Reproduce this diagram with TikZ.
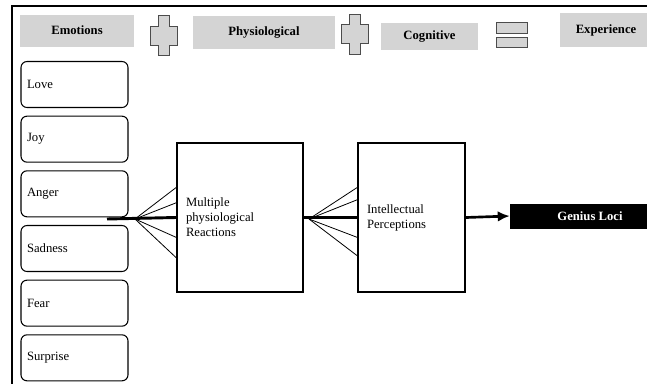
\documentclass[tikz,border=0pt]{standalone}
\usepackage{fontspec}
\setmainfont{Liberation Serif}
\usetikzlibrary{arrows.meta,calc,positioning}

\tikzset{
  hdrbox/.style={fill=black!17,draw=none,inner sep=0pt,font=\fontsize{9.5}{11}\selectfont\bfseries},
  emobox/.style={draw,line width=0.8pt,rounded corners=4.5pt,minimum width=80.25pt,minimum height=34.5pt,
    text width=71.25pt,align=left,inner xsep=4.5pt,font=\fontsize{9.5}{11.25}\selectfont},
  bigbox/.style={draw,line width=1.5pt,minimum height=111.75pt,inner xsep=6.75pt,align=left,
    font=\fontsize{9.5}{11.25}\selectfont},
  fanline/.style={line width=0.6pt},
  mainline/.style={line width=2.2pt},
  signshape/.style={fill=black!17,draw=black!70,line width=0.7pt}
}

\newcommand{\plusicon}[1]{%
  \draw[signshape,shift={#1}] (-5.5,-20) -- (5.5,-20) -- (5.5,-9.5) -- (13.5,-9.5) -- (13.5,9.5)
    -- (5.5,9.5) -- (5.5,20) -- (-5.5,20) -- (-5.5,9.5) -- (-13.5,9.5) -- (-13.5,-9.5) -- (-5.5,-9.5) -- cycle;}

\begin{document}
\begin{tikzpicture}[x=0.75pt,y=-0.75pt,>=Latex]
  \useasboundingbox (0,0) rectangle (647,383);
  \clip (0,0) rectangle (647,383);

  % Frame
  \draw[line width=1.6pt] (12,420) -- (12,6) -- (700,6);

  % Header row
  \node[hdrbox,minimum width=85.5pt,minimum height=24pt] (emotions) at (77,31) {\raisebox{2pt}{Emotions}};
  \node[hdrbox,minimum width=106.5pt,minimum height=24.75pt] (physio) at (264,32.5) {Physiological};
  \node[hdrbox,minimum width=72.75pt,minimum height=20.25pt] (cogn) at (429.5,36.5) {Cognitive};
  \node[hdrbox,minimum width=69pt,minimum height=25.5pt] (exper) at (606,30) {\raisebox{1.5pt}{Experience}};

  % Plus and equals signs
  \plusicon{(163.5,35.5)}
  \plusicon{(354.5,34)}
  \draw[signshape] (496,22) rectangle (527,33);
  \draw[signshape] (496,37) rectangle (527,47);

  % Emotions column
  \node[emobox] (love) at (74.5,84.5) {Love};
  \node[emobox,below=5.7pt of love] (joy) {Joy};
  \node[emobox,below=5.7pt of joy] (anger) {Anger};
  \node[emobox,below=5.7pt of anger] (sadness) {Sadness};
  \node[emobox,below=5.7pt of sadness] (fear) {Fear};
  \node[emobox,below=5.7pt of fear] (surprise) {Surprise};

  % Reaction and perception boxes
  \node[bigbox,minimum width=94.5pt,text width=81pt] (react) at (240,217.5)
    {Multiple\\physiological\\Reactions};
  \node[bigbox,minimum width=80.25pt,text width=66.75pt] (percept) at (411.5,217.5)
    {Intellectual\\Perceptions\\[11.25pt]};
  \node[fill=black,text=white,minimum width=120pt,minimum height=18.75pt,inner sep=0pt,
    font=\fontsize{9.5}{11}\selectfont\bfseries] (genius) at (590,216) {Genius Loci};

  % Fan into the reaction box
  \coordinate (emoend) at (107,219);
  \coordinate (fanA) at (135,219);
  \draw[mainline] (emoend) -- (react.west);
  \foreach \f in {0.302,0.403,0.631,0.765}
    \draw[fanline] (fanA) -- ($(react.north west)!\f!(react.south west)$);

  % Fan into the perception box
  \coordinate (fanB) at (309,219);
  \draw[mainline] (react.east) -- (percept.west);
  \foreach \f in {0.302,0.383,0.631,0.752}
    \draw[fanline] (fanB) -- ($(percept.north west)!\f!(percept.south west)$);

  % Result arrow
  \draw[-{Latex[length=9pt,width=8pt]},line width=2pt] (percept.east) -- (genius.west);
\end{tikzpicture}
\end{document}
